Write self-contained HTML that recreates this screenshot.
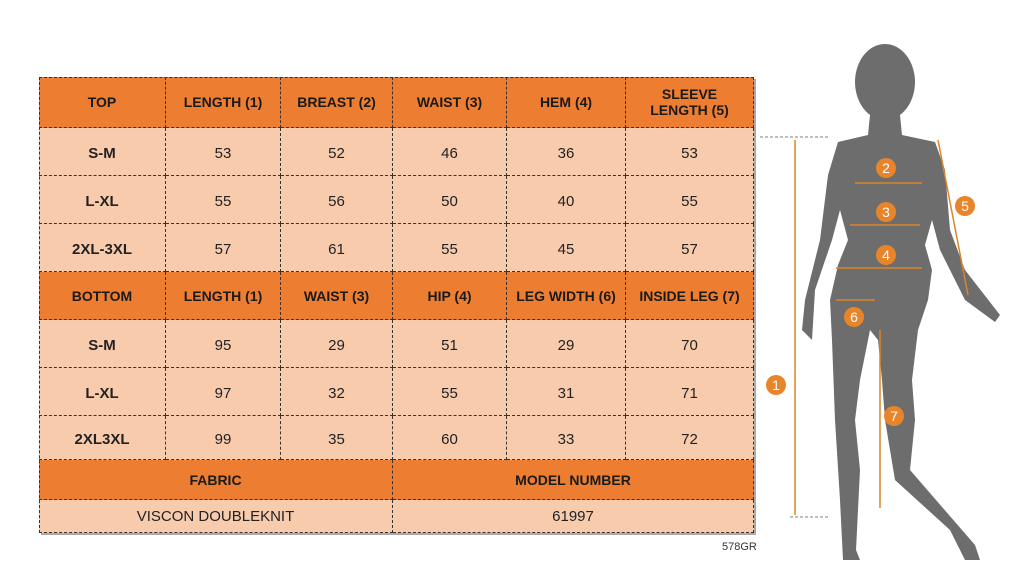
<!DOCTYPE html>
<html><head><meta charset="utf-8"><style>
body{margin:0;width:1024px;height:574px;background:#fff;position:relative;overflow:hidden;font-family:"Liberation Sans",sans-serif}
.c{position:absolute;box-sizing:border-box;border-right:1px dashed #333;border-bottom:1px dashed #333;display:flex;align-items:center;justify-content:center;text-align:center;font-size:15px;color:#222;padding-top:4px}
.h{background:#ed7d31;font-weight:bold;font-size:14px;color:#1a1a1a;padding-top:0}
.d{background:#f8cbad}
.b{font-weight:bold}
</style></head><body>
<div style="position:absolute;left:41px;top:79px;width:715px;height:456px;background:#aaa"></div>
<script>
var X=[39,166,281,393,507,626,754],Y=[77,128,176,224,272,320,368,416,460];
var rows=[["h","TOP","LENGTH (1)","BREAST (2)","WAIST (3)","HEM (4)","SLEEVE<br>LENGTH (5)"],
["d","S-M","53","52","46","36","53"],["d","L-XL","55","56","50","40","55"],["d","2XL-3XL","57","61","55","45","57"],
["h","BOTTOM","LENGTH (1)","WAIST (3)","HIP (4)","LEG WIDTH (6)","INSIDE LEG (7)"],
["d","S-M","95","29","51","29","70"],["d","L-XL","97","32","55","31","71"],["d","2XL3XL","99","35","60","33","72"]];
var s="";
rows.forEach(function(r,i){for(var j=0;j<6;j++){s+='<div class="c '+r[0]+(j==0?' b':'')+'" style="left:'+X[j]+'px;top:'+Y[i]+'px;width:'+(X[j+1]-X[j])+'px;height:'+(Y[i+1]-Y[i])+'px">'+r[j+1]+'</div>';}});
s+='<div class="c h" style="left:39px;top:460px;width:354px;height:40px">FABRIC</div>';
s+='<div class="c h" style="left:393px;top:460px;width:361px;height:40px">MODEL NUMBER</div>';
s+='<div class="c d" style="left:39px;top:500px;width:354px;height:33px;padding-top:0">VISCON DOUBLEKNIT</div>';
s+='<div class="c d" style="left:393px;top:500px;width:361px;height:33px;padding-top:0">61997</div>';
document.write(s);
</script>
<div style="position:absolute;left:39px;top:77px;width:715px;height:456px;border-left:1px dashed #333;border-top:1px dashed #333;box-sizing:border-box"></div>
<div style="position:absolute;left:722px;top:541px;font-size:11px;color:#333">578GR</div>
<svg style="position:absolute;left:0;top:0" width="1024" height="574">
<g fill="#6d6d6d">
<ellipse cx="885" cy="82" rx="30" ry="38"/>
<path d="M870 115 L900 115 L902 135 L935 142 L945 170 L950 230 L965 270 L1000 315 L995 322 L965 300 L940 250 L932 220 L925 245 L932 270 L928 300 L918 330 L912 380 L915 420 L910 470 L975 545 L980 560 L965 560 L950 530 L895 480 L885 420 L882 380 L878 340 L870 330 L860 380 L855 420 L860 470 L856 550 L860 560 L843 560 L840 500 L835 420 L832 340 L830 300 L838 265 L848 240 L840 210 L832 240 L815 290 L812 340 L802 330 L805 300 L820 240 L828 175 L838 142 L868 135 Z"/>
</g>
<g stroke="#d9852b" stroke-width="1.5" fill="none">
<line x1="795" y1="140" x2="795" y2="515"/><line x1="760" y1="137" x2="830" y2="137" stroke="#aaa" stroke-dasharray="3,2"/><line x1="790" y1="517" x2="830" y2="517" stroke="#aaa" stroke-dasharray="3,2"/>
<line x1="855" y1="183" x2="922" y2="183"/><line x1="850" y1="225" x2="920" y2="225"/><line x1="836" y1="268" x2="922" y2="268"/>
<line x1="938" y1="140" x2="968" y2="295"/><line x1="836" y1="300" x2="875" y2="300"/><line x1="880" y1="330" x2="880" y2="508"/>
</g>
<g fill="#e8852b" font-family="Liberation Sans" font-size="14" text-anchor="middle">
<circle cx="776" cy="385" r="10"/><circle cx="886" cy="168" r="10"/><circle cx="886" cy="212" r="10"/><circle cx="886" cy="255" r="10"/><circle cx="965" cy="206" r="10"/><circle cx="854" cy="317" r="10"/><circle cx="894" cy="416" r="10"/>
<g fill="#fff"><text x="776" y="390">1</text><text x="886" y="173">2</text><text x="886" y="217">3</text><text x="886" y="260">4</text><text x="965" y="211">5</text><text x="854" y="322">6</text><text x="894" y="421">7</text></g>
</g>
</svg>
</body></html>
